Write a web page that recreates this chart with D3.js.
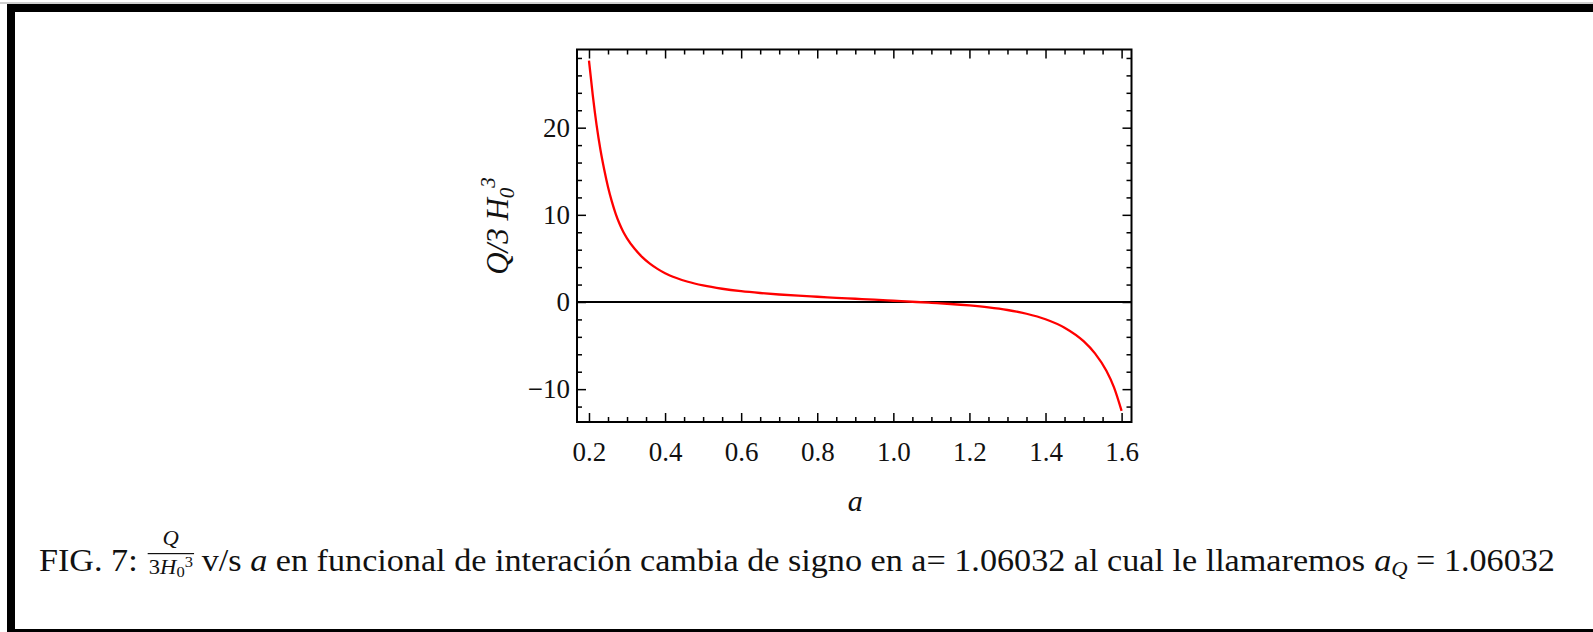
<!DOCTYPE html>
<html>
<head>
<meta charset="utf-8">
<script src="https://cdn.jsdelivr.net/npm/d3@7"></script>
<style>
  html, body { margin: 0; padding: 0; background: #fff; }
  svg { display: block; }
  text { white-space: pre; }
</style>
</head>
<body>
<svg id="fig" width="1593" height="632"></svg>
<script>
// Interaction term Q/(3 H0^3) against the scale factor a
const aValues = [0.20, 0.21, 0.22, 0.23, 0.24, 0.25, 0.26, 0.27, 0.28, 0.29, 0.30,
                 0.32, 0.34, 0.36, 0.38, 0.40, 0.43, 0.46, 0.50, 0.55, 0.60, 0.65,
                 0.70, 0.75, 0.80, 0.85, 0.90, 0.95, 1.00, 1.06032, 1.10, 1.15, 1.20,
                 1.25, 1.30, 1.35, 1.40, 1.45, 1.50, 1.53, 1.56, 1.58, 1.60];
const qValues = [27.7, 23.7, 20.3, 17.5, 15.2, 13.2, 11.55, 10.15, 9.0, 8.05, 7.3,
                 6.1, 5.15, 4.4, 3.8, 3.3, 2.75, 2.32, 1.9, 1.52, 1.24, 1.03,
                 0.86, 0.72, 0.6, 0.48, 0.37, 0.26, 0.14, 0, -0.1, -0.23, -0.4,
                 -0.62, -0.92, -1.35, -1.98, -2.95, -4.5, -5.9, -7.9, -9.8, -12.5];

const xTickValues = [0.2, 0.4, 0.6, 0.8, 1.0, 1.2, 1.4, 1.6];
const xTickLabels = ["0.2", "0.4", "0.6", "0.8", "1.0", "1.2", "1.4", "1.6"];
const yTickValues = [-10, 0, 10, 20];
const yTickLabels = ["\u221210", "0", "10", "20"];

const W = 1593, H = 632;
const svg = d3.select("#fig");

// page border
svg.append("rect").attr("x", 0).attr("y", 2.5).attr("width", W).attr("height", 1).attr("fill", "#a0a0a0");
svg.append("rect").attr("x", 7).attr("y", 4).attr("width", W - 7).attr("height", 8).attr("fill", "#000");
svg.append("rect").attr("x", 7).attr("y", 4).attr("width", 8).attr("height", H - 4).attr("fill", "#000");
svg.append("rect").attr("x", 15).attr("y", 629).attr("width", W - 15).attr("height", 3).attr("fill", "#000");

// plot frame
const plot = { left: 577, right: 1131.5, top: 49.5, bottom: 422 };
const x = d3.scaleLinear().domain([0.1685, 1.626]).range([plot.left, plot.right]);
const y = d3.scaleLinear().domain([-13.77, 28.97]).range([plot.bottom, plot.top]);

const tickFont = "'Liberation Serif', 'Times New Roman', serif";
const majorLen = 9, minorLen = 5;

const xMinor = d3.range(0.2, 1.6001, 0.05).filter(v => Math.abs(v * 5 - Math.round(v * 5)) > 1e-6);
const yMinor = d3.range(-12, 28.1, 2).filter(v => v % 10 !== 0);

function styleAxis(g) {
  g.select(".domain").remove();
  g.selectAll(".tick line").attr("stroke", "#000").attr("stroke-width", 1.5);
  g.selectAll(".tick text").attr("fill", "#111").attr("font-family", tickFont).attr("font-size", 27);
}

// bottom axis with labels
svg.append("g").attr("transform", `translate(0,${plot.bottom})`)
  .call(d3.axisBottom(x).tickValues(xTickValues).tickSizeInner(-majorLen).tickSizeOuter(0)
        .tickPadding(20).tickFormat((d, i) => xTickLabels[i]))
  .call(styleAxis);
svg.append("g").attr("transform", `translate(0,${plot.bottom})`)
  .call(d3.axisBottom(x).tickValues(xMinor).tickSizeInner(-minorLen).tickSizeOuter(0).tickFormat(""))
  .call(styleAxis);
// top axis (ticks only)
svg.append("g").attr("transform", `translate(0,${plot.top})`)
  .call(d3.axisTop(x).tickValues(xTickValues).tickSizeInner(-majorLen).tickSizeOuter(0).tickFormat(""))
  .call(styleAxis);
svg.append("g").attr("transform", `translate(0,${plot.top})`)
  .call(d3.axisTop(x).tickValues(xMinor).tickSizeInner(-minorLen).tickSizeOuter(0).tickFormat(""))
  .call(styleAxis);
// left axis with labels
svg.append("g").attr("transform", `translate(${plot.left},0)`)
  .call(d3.axisLeft(y).tickValues(yTickValues).tickSizeInner(-majorLen).tickSizeOuter(0)
        .tickPadding(7).tickFormat((d, i) => yTickLabels[i]))
  .call(styleAxis);
svg.append("g").attr("transform", `translate(${plot.left},0)`)
  .call(d3.axisLeft(y).tickValues(yMinor).tickSizeInner(-minorLen).tickSizeOuter(0).tickFormat(""))
  .call(styleAxis);
// right axis (ticks only)
svg.append("g").attr("transform", `translate(${plot.right},0)`)
  .call(d3.axisRight(y).tickValues(yTickValues).tickSizeInner(-majorLen).tickSizeOuter(0).tickFormat(""))
  .call(styleAxis);
svg.append("g").attr("transform", `translate(${plot.right},0)`)
  .call(d3.axisRight(y).tickValues(yMinor).tickSizeInner(-minorLen).tickSizeOuter(0).tickFormat(""))
  .call(styleAxis);

// frame
svg.append("rect")
  .attr("x", plot.left).attr("y", plot.top)
  .attr("width", plot.right - plot.left).attr("height", plot.bottom - plot.top)
  .attr("fill", "none").attr("stroke", "#000").attr("stroke-width", 2);

// zero line
svg.append("line")
  .attr("x1", plot.left).attr("x2", plot.right)
  .attr("y1", y(0)).attr("y2", y(0))
  .attr("stroke", "#000").attr("stroke-width", 1.8);

// curve
const pts = aValues.map((a, i) => [a, qValues[i]]);
svg.append("path")
  .datum(pts)
  .attr("fill", "none")
  .attr("stroke", "#ff0000")
  .attr("stroke-width", 2.3)
  .attr("d", d3.line().x(d => x(d[0])).y(d => y(d[1])).curve(d3.curveMonotoneX));

// axis titles
svg.append("text")
  .attr("x", (plot.left + plot.right) / 2 + 1).attr("y", 511)
  .attr("text-anchor", "middle")
  .attr("font-family", tickFont).attr("font-style", "italic").attr("font-size", 30)
  .attr("fill", "#111").text("a");

const yt = svg.append("text")
  .attr("transform", "translate(508,226) rotate(-90)")
  .attr("text-anchor", "middle")
  .attr("font-family", tickFont).attr("font-style", "italic").attr("font-size", 31)
  .attr("fill", "#111");
yt.append("tspan").text("Q/3 H");
yt.append("tspan").attr("font-size", 21).attr("dy", 6).text("0");
yt.append("tspan").attr("font-size", 21).attr("dy", -19).text("3");

// caption
const capFont = "'Liberation Serif', 'Times New Roman', serif";
const fs = 31, fsSmall = 20.5, fsTiny = 15;
const cap = svg.append("g");
let cx = 0;
function piece(str, opt = {}) {
  const t = cap.append("text")
    .attr("x", cx).attr("y", opt.y || 0)
    .attr("font-family", capFont)
    .attr("font-size", opt.size || fs)
    .attr("font-style", opt.italic ? "italic" : "normal")
    .attr("fill", "#111")
    .text(str);
  cx += t.node().getComputedTextLength();
  return t;
}
piece("FIG. 7:");
cx += 9;
// fraction Q / (3 H0^3): numerator, bar, denominator
const fracX = cx;
const num = cap.append("text").attr("y", -26).attr("font-family", capFont)
  .attr("font-size", fsSmall).attr("font-style", "italic").attr("fill", "#111").text("Q");
const den = cap.append("text").attr("x", 0).attr("y", 3).attr("font-family", capFont)
  .attr("font-size", fsSmall).attr("fill", "#111");
den.append("tspan").text("3");
den.append("tspan").attr("font-style", "italic").text("H");
den.append("tspan").attr("font-size", fsTiny).attr("dy", 3).text("0");
den.append("tspan").attr("font-size", fsTiny).attr("dy", -10.5).text("3");
const numW = num.node().getBBox().width;
const denBox = den.node().getBBox();
const denW = denBox.x + denBox.width;
const fracW = Math.max(numW, denW) + 2;
num.attr("x", fracX + (fracW - numW) / 2);
den.attr("x", fracX + (fracW - denW) / 2);
cap.append("rect").attr("x", fracX).attr("y", -18).attr("width", fracW).attr("height", 1.2).attr("fill", "#111");
cx += fracW + 7;
piece("v/s ");
piece("a", { italic: true });
piece(" en funcional de interación cambia de signo en a= 1.06032 al cual le llamaremos ");
piece("a", { italic: true });
piece("Q", { italic: true, size: fsSmall, y: 5 });
piece(" = 1.06032");

const capLeft = 39, capRight = 1555;
const sx = (capRight - capLeft) / cx;
cap.attr("transform", `translate(${capLeft},571) scale(${sx},1)`);
</script>
</body>
</html>
